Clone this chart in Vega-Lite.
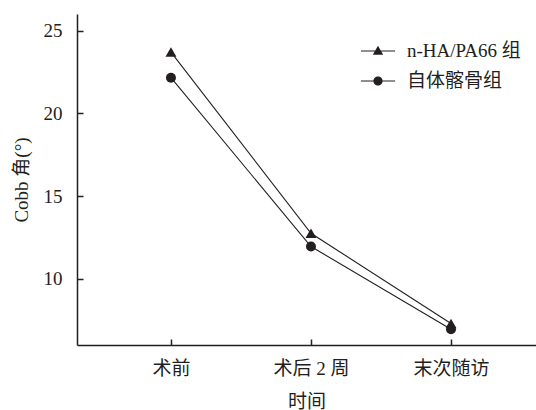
{
  "$schema": "https://vega.github.io/schema/vega-lite/v6.json",
  "width": 459,
  "height": 331,
  "autosize": "none",
  "padding": {"left": 77, "top": 14, "right": 0, "bottom": 65},
  "background": "white",
  "config": {
    "view": {"stroke": null},
    "font": "Liberation Serif, Noto Sans CJK SC",
    "axis": {
      "grid": false,
      "domainColor": "#231f20",
      "domainWidth": 1.5,
      "tickColor": "#231f20",
      "tickWidth": 1.5,
      "tickSize": -6,
      "labelFont": "Liberation Serif, Noto Sans CJK SC",
      "titleFont": "Liberation Serif, Noto Sans CJK SC",
      "labelFontSize": 19,
      "titleFontSize": 19,
      "titleFontWeight": "normal",
      "labelColor": "#231f20",
      "titleColor": "#231f20"
    },
    "legend": {
      "labelFont": "Liberation Serif, Noto Sans CJK SC",
      "labelFontSize": 19,
      "labelColor": "#231f20"
    }
  },
  "data": {
    "values": [
      {"时间": "术前", "idx": 0, "组": "n-HA/PA66 组", "Cobb": 23.7},
      {"时间": "术后 2 周", "idx": 1, "组": "n-HA/PA66 组", "Cobb": 12.75},
      {"时间": "末次随访", "idx": 2, "组": "n-HA/PA66 组", "Cobb": 7.3},
      {"时间": "术前", "idx": 0, "组": "自体髂骨组", "Cobb": 22.15},
      {"时间": "术后 2 周", "idx": 1, "组": "自体髂骨组", "Cobb": 11.95},
      {"时间": "末次随访", "idx": 2, "组": "自体髂骨组", "Cobb": 6.95}
    ]
  },
  "encoding": {
    "x": {
      "field": "idx",
      "type": "quantitative",
      "scale": {"domain": [-0.671, 2.607], "nice": false, "zero": false},
      "axis": {
        "title": "时间",
        "values": [0, 1, 2],
        "labelExpr": "datum.value == 0 ? '术前' : datum.value == 1 ? '术后 2 周' : '末次随访'",
        "labelPadding": 20,
        "titlePadding": 14
      }
    },
    "y": {
      "field": "Cobb",
      "type": "quantitative",
      "scale": {"domain": [6, 26], "nice": false, "zero": false},
      "axis": {
        "title": "Cobb 角(°)",
        "values": [10, 15, 20, 25],
        "labelPadding": 21,
        "titlePadding": 12
      }
    }
  },
  "layer": [
    {
      "mark": {"type": "line", "color": "#231f20", "strokeWidth": 1.1},
      "encoding": {"detail": {"field": "组"}}
    },
    {
      "transform": [{"filter": "datum['组'] == 'n-HA/PA66 组'"}],
      "mark": {"type": "point", "shape": "triangle-up", "filled": true, "color": "#231f20", "opacity": 1, "size": 120}
    },
    {
      "transform": [{"filter": "datum['组'] == '自体髂骨组'"}],
      "mark": {"type": "point", "shape": "circle", "filled": true, "color": "#231f20", "opacity": 1, "size": 100}
    },
    {
      "mark": {"type": "point", "filled": true, "color": "#231f20", "opacity": 0, "size": 784},
      "encoding": {
        "shape": {
          "field": "组",
          "type": "nominal",
          "scale": {
            "domain": ["n-HA/PA66 组", "自体髂骨组"],
            "range": [
              "M-1.22,-0.04L1.22,-0.04L1.22,0.04L-1.22,0.04ZM0,-0.38L0.37,0.27L-0.37,0.27Z",
              "M-1.22,-0.04L1.22,-0.04L1.22,0.04L-1.22,0.04ZM0.33,0A0.33,0.33 0 1,1 -0.33,0A0.33,0.33 0 1,1 0.33,0Z"
            ]
          },
          "legend": {
            "title": null,
            "orient": "none",
            "legendX": 286,
            "legendY": 22,
            "padding": 0,
            "rowPadding": 5,
            "labelOffset": 14,
            "symbolSize": 784,
            "encode": {
              "symbols": {
                "update": {
                  "opacity": {"value": 1},
                  "fill": {"value": "#231f20"},
                  "fillOpacity": {"value": 1}
                }
              }
            }
          }
        }
      }
    }
  ]
}
